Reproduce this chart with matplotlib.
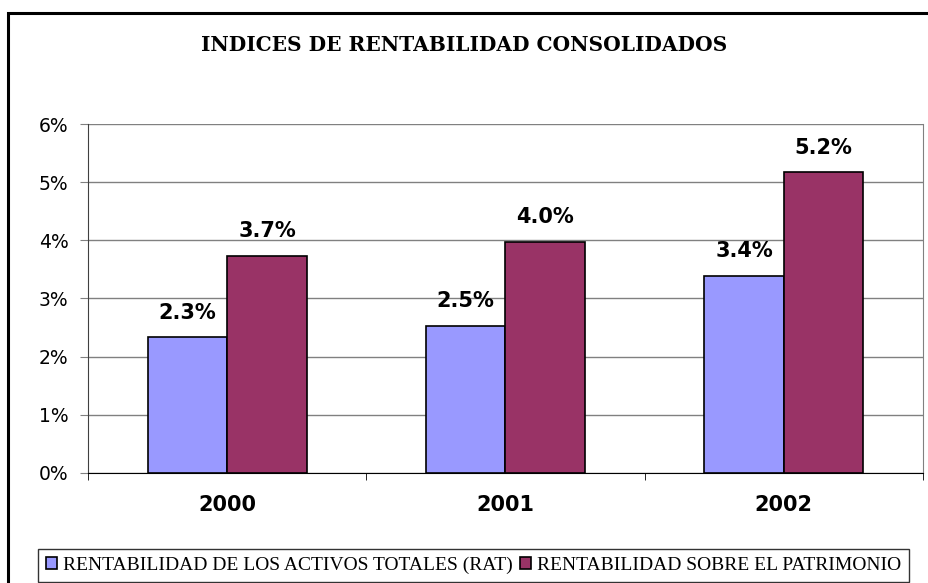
import numpy as np
import matplotlib.pyplot as plt
from matplotlib.lines import Line2D

anios = ['2000', '2001', '2002']
rat = [2.33, 2.53, 3.39]
rsp = [3.73, 3.97, 5.17]
serie_rat = 'RENTABILIDAD DE LOS ACTIVOS TOTALES (RAT)'
serie_rsp = 'RENTABILIDAD SOBRE EL PATRIMONIO'

fig = plt.figure(figsize=(9.29, 5.83), dpi=100)
ax = fig.add_axes([0.0947, 0.1887, 0.8988, 0.5986])

x = np.arange(len(anios))
ancho = 0.286

b1 = ax.bar(x - ancho / 2, rat, ancho, color='#9999FF', edgecolor='black',
            linewidth=1.2, label=serie_rat, zorder=3)
b2 = ax.bar(x + ancho / 2, rsp, ancho, color='#993366', edgecolor='black',
            linewidth=1.2, label=serie_rsp, zorder=3)

# etiquetas de valor
for barras in (b1, b2):
    for b in barras:
        ax.annotate(f'{b.get_height():.1f}%',
                    (b.get_x() + b.get_width() / 2, b.get_height()),
                    xytext=(0, 13.5), textcoords='offset points',
                    ha='center', va='baseline', fontsize=15,
                    fontweight='bold', family='DejaVu Sans')

ax.set_xlim(-0.5, 2.5)
ax.set_ylim(0, 6)
ax.set_yticks(range(7))
ax.set_yticklabels([f'{i}%' for i in range(7)], family='DejaVu Sans',
                   fontsize=13.5)
ax.yaxis.grid(True, color='#808080', linewidth=1, zorder=0)
ax.tick_params(axis='y', length=6, direction='out', pad=8, color='#808080')

ax.set_xticks(x)
ax.set_xticklabels(anios, family='DejaVu Sans', fontsize=15,
                   fontweight='bold')
ax.tick_params(axis='x', length=0, pad=16)
ax.set_xticks([-0.5, 0.5, 1.5, 2.5], minor=True)
ax.tick_params(axis='x', which='minor', length=5, direction='out')

ax.spines['top'].set_visible(False)
ax.spines['right'].set_color('#808080')
ax.spines['left'].set_color('#404040')
ax.spines['bottom'].set_color('black')

fig.text(0.5, 0.922, 'INDICES DE RENTABILIDAD CONSOLIDADOS',
         ha='center', va='center', fontsize=14.5, fontweight='bold',
         family='DejaVu Serif')

leg = fig.legend(loc='center', bbox_to_anchor=(0.5097, 0.030), ncol=2,
                 frameon=True, fancybox=False, edgecolor='black',
                 prop={'family': 'Liberation Serif', 'size': 14},
                 handlelength=0.55, handleheight=0.55, handletextpad=0.3,
                 columnspacing=0.4, borderpad=0.4, borderaxespad=0)
leg.get_frame().set_linewidth(1)

# marco exterior del grafico (solo borde izquierdo y superior visibles)
fig.add_artist(Line2D([0.009, 0.009, 1.0], [0.0, 0.978, 0.978],
                      transform=fig.transFigure, color='black',
                      linewidth=2.2, solid_joinstyle='miter'))

fig.savefig('out.png', dpi=100)
